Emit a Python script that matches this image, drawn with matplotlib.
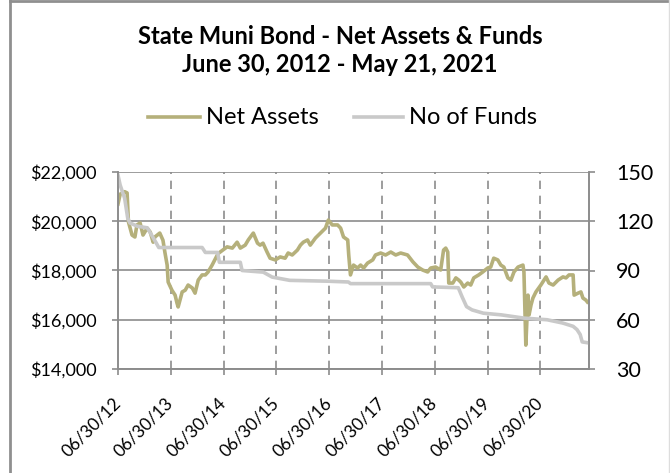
import matplotlib.pyplot as plt
import matplotlib.dates as mdates
import matplotlib.transforms as mtransforms
import pandas as pd
from matplotlib.lines import Line2D

plt.rcParams['font.family'] = ['Lato', 'DejaVu Sans']

# Net assets ($ millions)
asset_dates = [
    "2012-06-30", "2012-07-15", "2012-08-15", "2012-09-01", "2012-09-10", "2012-10-05",
    "2012-10-25", "2012-11-08", "2012-11-30", "2012-12-20", "2013-01-18", "2013-02-08",
    "2013-02-28", "2013-03-12", "2013-04-15", "2013-05-07", "2013-05-20", "2013-06-05",
    "2013-06-12", "2013-07-08", "2013-07-30", "2013-08-12", "2013-08-20", "2013-09-17",
    "2013-10-08", "2013-10-28", "2013-11-26", "2013-12-15", "2014-01-06", "2014-02-02",
    "2014-02-24", "2014-03-15", "2014-04-12", "2014-05-18", "2014-05-26", "2014-07-25",
    "2014-08-30", "2014-10-02", "2014-10-24", "2014-11-27", "2014-12-18", "2015-01-22",
    "2015-02-20", "2015-03-10", "2015-03-30", "2015-04-27", "2015-05-18", "2015-06-23",
    "2015-07-27", "2015-08-30", "2015-09-20", "2015-10-18", "2015-11-23", "2015-12-14",
    "2016-01-03", "2016-02-01", "2016-02-20", "2016-03-27", "2016-04-30", "2016-06-04",
    "2016-06-24", "2016-07-21", "2016-08-27", "2016-09-17", "2016-10-07", "2016-11-05",
    "2016-11-12", "2016-11-24", "2016-12-15", "2017-01-12", "2017-02-02", "2017-02-23",
    "2017-03-22", "2017-04-27", "2017-05-16", "2017-06-21", "2017-07-25", "2017-08-30",
    "2017-10-03", "2017-11-06", "2017-12-24", "2018-01-30", "2018-03-05", "2018-04-07",
    "2018-05-12", "2018-06-02", "2018-07-06", "2018-08-10", "2018-08-30", "2018-09-14",
    "2018-09-28", "2018-10-05", "2018-11-02", "2018-11-23", "2018-12-13", "2018-12-27",
    "2019-01-17", "2019-02-13", "2019-03-06", "2019-03-27", "2019-04-30", "2019-05-28",
    "2019-07-01", "2019-07-22", "2019-08-12", "2019-09-09", "2019-09-30", "2019-10-21",
    "2019-11-18", "2019-12-09", "2019-12-30", "2020-01-27", "2020-03-01", "2020-03-08",
    "2020-03-21", "2020-04-05", "2020-04-12", "2020-04-26", "2020-05-09", "2020-05-30",
    "2020-07-03", "2020-08-08", "2020-08-28", "2020-09-26", "2020-10-30", "2020-12-03",
    "2020-12-24", "2021-01-14", "2021-02-11", "2021-02-18", "2021-03-17", "2021-04-06",
    "2021-04-20", "2021-05-10", "2021-05-21",
]
net_assets = [
    20700, 21100, 21200, 21150, 19980, 19440,
    19360, 19850, 19930, 19440, 19720, 19560,
    19150, 19360, 19520, 19230, 18750, 18220,
    17530, 17200, 17000, 16680, 16520, 17130,
    17200, 17410, 17290, 17080, 17610, 17820,
    17820, 17940, 18220, 18630, 18700, 18960,
    18910, 19150, 18910, 19030, 19240, 19520,
    19110, 19030, 19110, 18750, 18500, 18430,
    18550, 18500, 18710, 18630, 18830, 19030,
    19150, 19240, 19030, 19320, 19520, 19720,
    20050, 19850, 19850, 19720, 19360, 19240,
    18630, 17820, 18220, 18100, 18220, 18100,
    18300, 18430, 18630, 18710, 18630, 18750,
    18630, 18710, 18630, 18350, 18140, 18020,
    17940, 18100, 18140, 18020, 18830, 18910,
    18750, 17490, 17490, 17700, 17610, 17530,
    17330, 17490, 17410, 17700, 17820, 17940,
    18100, 18140, 18500, 18430, 18220, 18140,
    17700, 17610, 17940, 18140, 18220, 17940,
    14970, 17000, 16190, 16600, 16880, 17130,
    17410, 17740, 17490, 17410, 17610, 17740,
    17700, 17820, 17820, 17000, 17080, 17130,
    16880, 16800, 16720,
]

# Number of funds
fund_dates = [
    "2012-06-30", "2012-07-15", "2012-08-15", "2012-09-05", "2012-09-20", "2012-11-10",
    "2013-01-18", "2013-02-08", "2013-02-28", "2013-03-20", "2013-04-08", "2014-02-02",
    "2014-02-24", "2014-05-20", "2014-06-01", "2014-10-24", "2014-11-05", "2015-04-01",
    "2015-06-01", "2015-10-01", "2016-06-15", "2016-11-10", "2016-11-24", "2018-06-02",
    "2018-06-15", "2018-12-10", "2019-01-05", "2019-02-05", "2019-03-15", "2019-06-01",
    "2019-10-01", "2020-03-08", "2020-08-15", "2020-12-01", "2021-02-11", "2021-03-10",
    "2021-04-01", "2021-04-15", "2021-05-21",
]
num_funds = [
    148, 142, 134, 122, 119, 117,
    116, 113, 110, 107, 104, 104,
    101, 101, 95, 95, 90, 89,
    86, 84, 83.5, 83, 82, 82,
    80, 79.5, 74, 68, 66, 64,
    63, 61, 60, 58, 56, 54,
    51, 46.5, 46,
]

year_ticks = ["2012-06-30", "2013-06-30", "2014-06-30", "2015-06-30", "2016-06-30",
              "2017-06-30", "2018-06-30", "2019-06-30", "2020-06-30"]

asset_x = pd.to_datetime(asset_dates)
fund_x = pd.to_datetime(fund_dates)
tick_x = pd.to_datetime(year_ticks)

olive = "#b5b07b"
light = "#c9c9c9"
grid = "#8c8c8c"

W, H = 670, 473
fig = plt.figure(figsize=(W / 100, H / 100), dpi=100)
ax = fig.add_axes([118 / W, 1 - 369 / H, 471 / W, 197 / H])
ax2 = ax.twinx()

ax.plot(asset_x, net_assets, color=olive, lw=2.6, solid_joinstyle="round")
ax2.plot(fund_x, num_funds, color=light, lw=2.6, solid_joinstyle="round")

ax.set_xlim(pd.Timestamp("2012-06-30"), pd.Timestamp("2021-06-01"))
ax.set_ylim(14000, 22000)
ax2.set_ylim(30, 150)
ax.set_yticks(range(14000, 22001, 2000))
ax2.set_yticks(range(30, 151, 30))
ax.yaxis.set_major_formatter(plt.FuncFormatter(lambda v, p: "${:,.0f}".format(v)))

ax.set_xticks(tick_x)
ax.xaxis.set_major_formatter(mdates.DateFormatter("%m/%d/%y"))
shift = mtransforms.ScaledTranslation(-0.04, 0, fig.dpi_scale_trans)
for lbl in ax.get_xticklabels():
    lbl.set_rotation(45)
    lbl.set_ha("right")
    lbl.set_va("center")
    lbl.set_rotation_mode("anchor")
    lbl.set_transform(lbl.get_transform() + shift)

ax.yaxis.grid(True, color=grid, lw=1.2)
for t in tick_x[1:]:
    ax.axvline(t, color=grid, lw=1.2, ls=(0, (5, 4)), zorder=0)

for a in (ax, ax2):
    for s in a.spines.values():
        s.set_color(grid)
        s.set_linewidth(1.2)
    a.spines["top"].set_visible(False)
    a.tick_params(color=grid, width=1.2, length=4.5)
ax.tick_params(axis="y", labelsize=13, pad=11)
ax.tick_params(axis="x", labelsize=12.5, pad=18)
ax2.tick_params(axis="y", labelsize=15.5, pad=15)

# two-line title
fig.text(340 / W, 1 - 36 / H, "State Muni Bond - Net Assets & Funds",
         ha="center", va="center", fontsize=17, fontweight="bold")
fig.text(340 / W, 1 - 64 / H, "June 30, 2012 - May 21, 2021",
         ha="center", va="center", fontsize=17, fontweight="bold")

# legend row
leg_y = 1 - 117 / H
fig.add_artist(Line2D([148 / W, 200 / W], [leg_y, leg_y], color=olive, lw=2.6))
fig.text(206 / W, leg_y, "Net Assets", ha="left", va="center", fontsize=17)
fig.add_artist(Line2D([354 / W, 403 / W], [leg_y, leg_y], color=light, lw=2.6))
fig.text(409 / W, leg_y, "No of Funds", ha="left", va="center", fontsize=17)

# outer frame
fig.add_artist(Line2D([10 / W, 10 / W], [0, 1], color="#8f8f8f", lw=2))
fig.add_artist(Line2D([10 / W, 1], [1 - 1.5 / H, 1 - 1.5 / H], color="#8f8f8f", lw=2))
fig.add_artist(Line2D([669 / W, 669 / W], [0, 1], color="#dddddd", lw=1))

fig.savefig("out.png", dpi=100)
